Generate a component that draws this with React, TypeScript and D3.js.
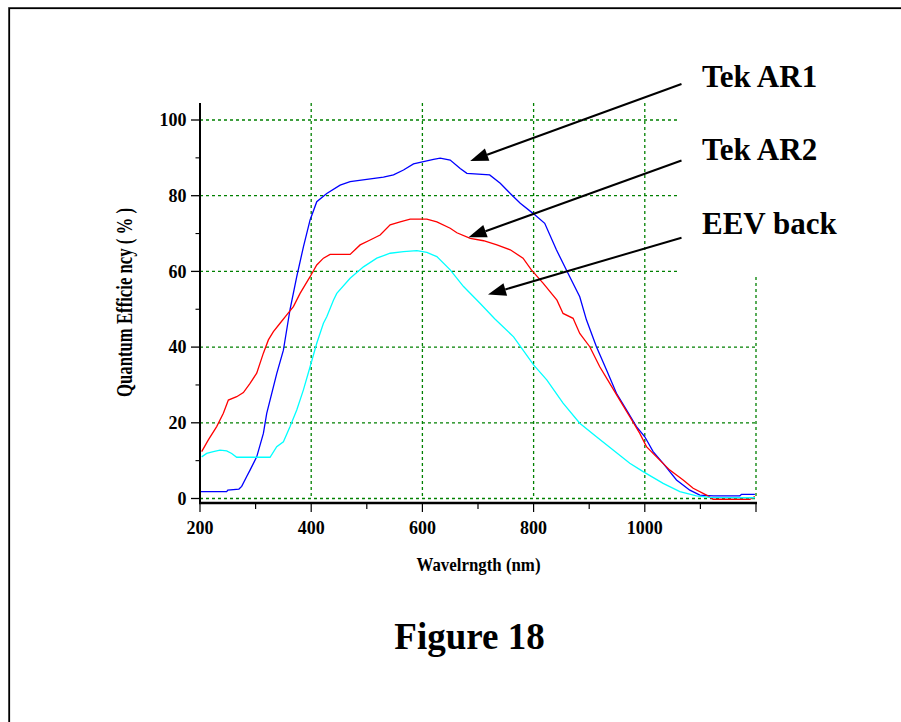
import React from "react";
import * as d3 from "d3";

// ---- Data ----
const ar1Wavelength = [200, 248, 250, 270, 275, 284, 290, 302, 314, 320, 326, 338, 350, 362, 374, 386, 398, 410, 428, 452, 470, 500, 530, 548, 566, 584, 602, 620, 632, 650, 668, 680, 721, 740, 758, 776, 800, 820, 841, 865, 883, 895, 913, 931, 949, 967, 985, 1000, 1015, 1033, 1057, 1081, 1099, 1123, 1171, 1174, 1198];
const ar1QE = [1.8, 1.8, 2.2, 2.5, 3.2, 5.8, 7.5, 11, 17.2, 22.5, 26, 33, 39.2, 50, 58.6, 66.5, 73.6, 78.4, 80.6, 82.8, 83.7, 84.3, 84.9, 85.5, 86.8, 88.4, 89.0, 89.6, 89.9, 89.4, 87.2, 85.9, 85.5, 83.3, 80.6, 78, 75.2, 72.7, 65.7, 58.6, 53.3, 47.2, 40.1, 34, 27.8, 23.4, 19, 16.3, 12.4, 9.3, 4.9, 2.2, 0.9, 0.7, 0.7, 1.1, 1.1];

const ar2Wavelength = [203, 215, 230, 242, 251, 266, 278, 290, 302, 314, 323, 332, 344, 356, 368, 380, 398, 410, 422, 434, 470, 488, 506, 524, 542, 560, 578, 608, 626, 650, 662, 686, 710, 734, 758, 781, 796, 817, 842, 853, 871, 883, 901, 919, 937, 955, 973, 991, 1003, 1021, 1045, 1069, 1087, 1111, 1123, 1189, 1198];
const ar2QE = [12.4, 15.5, 19, 22.5, 26, 26.9, 28, 30.4, 33.1, 38.4, 41.9, 44.1, 46.3, 48.5, 50.7, 54.2, 58.6, 61.7, 63.5, 64.5, 64.5, 67, 68.3, 69.6, 72.3, 73.1, 73.8, 73.8, 73.1, 71.4, 70.2, 68.7, 68.1, 67, 65.7, 63.5, 60.4, 56.9, 52.4, 48.9, 47.6, 43.6, 40.1, 34.8, 30.4, 26, 21.6, 17.2, 13.7, 11, 7.5, 4.9, 2.7, 0.9, -0.2, -0.2, 0.5];

const eevWavelength = [203, 212, 224, 236, 248, 257, 266, 326, 338, 350, 362, 374, 386, 398, 410, 422, 428, 440, 446, 470, 494, 518, 542, 566, 590, 608, 626, 650, 674, 704, 730, 764, 800, 824, 853, 883, 913, 943, 973, 997, 1033, 1063, 1093, 1117, 1198];
const eevQE = [11, 11.9, 12.4, 12.8, 12.6, 11.9, 10.9, 10.9, 13.7, 15, 19, 23.4, 28.7, 34.8, 41, 46.3, 48, 52.4, 54.2, 58.2, 61.2, 63.5, 64.8, 65.2, 65.5, 65, 63.9, 60.4, 56, 51.5, 47.5, 42.7, 35.3, 31.3, 25.2, 19.9, 16.3, 12.8, 9.3, 7.1, 4, 1.8, 0.7, 0.3, 0.2];

const xTickValues = [200, 400, 600, 800, 1000];
const xMinorTicks = [200, 300, 400, 500, 600, 700, 800, 900, 1000, 1100, 1200];
const xGridValues = [200, 400, 600, 800, 1000, 1200];
const yTickValues = [0, 20, 40, 60, 80, 100];
const yMinorTicks = [10, 30, 50, 70, 90];

const seriesNames = ["Tek AR1", "Tek AR2", "EEV back"];
const seriesColors = ["#0000ff", "#ff0000", "#00ffff"];
// arrow annotations: [start wavelength, start QE, tip wavelength, tip QE]
const arrowStartNm = [1066, 1066, 1066];
const arrowStartQE = [109.5, 89.3, 68.9];
const arrowTipNm = [686, 683, 718];
const arrowTipQE = [89.2, 69.0, 53.9];

const xTitle = "Wavelrngth (nm)";
const yTitle = "Quantum  Efficie ncy  ( % )";
const figureTitle = "Figure 18";

const FONT = "'Liberation Serif', 'Times New Roman', Times, serif";

export default function App() {
  const x = d3.scaleLinear().domain([200, 1200]).range([200, 756]);
  const y = d3.scaleLinear().domain([0, 100]).range([498.5, 120]);
  const yTop = y(104.5);
  const axisY = 503;

  const series = [
    { w: ar1Wavelength, q: ar1QE },
    { w: ar2Wavelength, q: ar2QE },
    { w: eevWavelength, q: eevQE },
  ];
  const line = d3
    .line<[number, number]>()
    .x((d) => x(d[0]))
    .y((d) => y(d[1]));

  const gridStyle = {
    stroke: "#008000",
    strokeWidth: 1.3,
    strokeDasharray: "3,3",
    fill: "none",
  };

  const arrows = arrowTipNm.map((_, i) => {
    const x0 = x(arrowStartNm[i]);
    const y0 = y(arrowStartQE[i]);
    const x1 = x(arrowTipNm[i]);
    const y1 = y(arrowTipQE[i]);
    const dx = x1 - x0;
    const dy = y1 - y0;
    const len = Math.sqrt(dx * dx + dy * dy);
    const ux = dx / len;
    const uy = dy / len;
    const L = 18;
    const W = 6.5;
    const bx = x1 - ux * L;
    const by = y1 - uy * L;
    const pts = [
      [x1, y1],
      [bx - uy * W, by + ux * W],
      [bx + uy * W, by - ux * W],
    ];
    return { x0, y0, bx, by, pts };
  });

  return (
    <svg
      width={901}
      height={722}
      style={{ position: "absolute", left: 0, top: 0, background: "#fff" }}
      fontFamily={FONT}
    >
      <rect x={0} y={0} width={901} height={722} fill="#fff" />
      {/* outer frame */}
      <rect x={8.5} y={7.5} width={1000} height={1000} fill="none" stroke="#888" strokeWidth={1} />
      <rect x={9.3} y={8.3} width={1000} height={1000} fill="none" stroke="#000" strokeWidth={1.6} />

      {/* grid */}
      {xGridValues.map((v) => (
        <line key={"gx" + v} x1={x(v)} x2={x(v)} y1={yTop} y2={y(0)} style={gridStyle} />
      ))}
      {yTickValues.map((v) => (
        <line key={"gy" + v} x1={x(200)} x2={x(1200)} y1={y(v)} y2={y(v)} style={gridStyle} />
      ))}

      {/* series */}
      {series.map((s, i) => (
        <path
          key={"s" + i}
          d={line(s.w.map((w, j) => [w, s.q[j]] as [number, number])) || ""}
          fill="none"
          stroke={seriesColors[i]}
          strokeWidth={1.3}
        />
      ))}

      {/* axes */}
      <line x1={200} x2={200} y1={yTop} y2={axisY + 1} stroke="#000" strokeWidth={2} />
      <line x1={199} x2={x(1200) + 1} y1={axisY} y2={axisY} stroke="#000" strokeWidth={2.5} />
      {yTickValues.map((v) => (
        <line key={"yt" + v} x1={191} x2={200} y1={y(v)} y2={y(v)} stroke="#000" strokeWidth={1.3} />
      ))}
      {yMinorTicks.map((v) => (
        <line key={"ym" + v} x1={195.5} x2={200} y1={y(v)} y2={y(v)} stroke="#000" strokeWidth={1.1} />
      ))}
      {xMinorTicks.map((v) => {
        const major = v % 200 === 0;
        return (
          <line
            key={"xt" + v}
            x1={x(v)}
            x2={x(v)}
            y1={axisY}
            y2={axisY + (major ? 9 : 6)}
            stroke="#000"
            strokeWidth={1.2}
          />
        );
      })}
      {yTickValues.map((v) => (
        <text
          key={"yl" + v}
          x={186.5}
          y={y(v)}
          dy="0.35em"
          textAnchor="end"
          fontSize={18}
          fontWeight="bold"
        >
          {v}
        </text>
      ))}
      {xTickValues.map((v) => (
        <text
          key={"xl" + v}
          x={x(v)}
          y={533.5}
          textAnchor="middle"
          fontSize={18}
          fontWeight="bold"
        >
          {v}
        </text>
      ))}

      {/* axis titles */}
      <text
        x={478.5}
        y={571}
        textAnchor="middle"
        fontSize={19}
        fontWeight="bold"
        textLength={124}
        lengthAdjust="spacingAndGlyphs"
      >
        {xTitle}
      </text>
      <text
        transform="translate(132,302.5) rotate(-90)"
        textAnchor="middle"
        fontSize={24}
        fontWeight="bold"
        textLength={189}
        lengthAdjust="spacingAndGlyphs"
      >
        {yTitle}
      </text>

      {/* legend box (covers grid) */}
      <rect x={680} y={100} width={100} height={177} fill="#fff" />

      {/* arrows */}
      {arrows.map((a, i) => (
        <g key={"ar" + i}>
          <line x1={a.x0} y1={a.y0} x2={a.bx} y2={a.by} stroke="#000" strokeWidth={2} />
          <polygon points={a.pts.map((p) => p.join(",")).join(" ")} fill="#000" />
        </g>
      ))}
      {seriesNames.map((n, i) => (
        <text key={"ln" + i} x={702} y={[86.7, 160, 233.5][i]} fontSize={31} fontWeight="bold">
          {n}
        </text>
      ))}

      <text x={469.5} y={649} textAnchor="middle" fontSize={37} fontWeight="bold">
        {figureTitle}
      </text>
    </svg>
  );
}
